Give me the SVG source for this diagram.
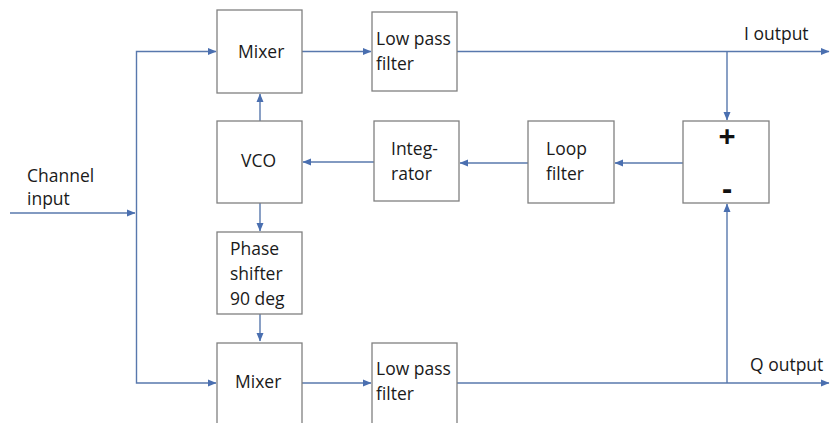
<svg xmlns="http://www.w3.org/2000/svg" width="837" height="423" viewBox="0 0 837 423">
<style>
.box{fill:#fff;stroke:#808080;stroke-width:1.3}
.t{font-family:"Open Sans","Liberation Sans",sans-serif;font-size:17.5px;fill:#1a1a1a}
.big{font-family:"Open Sans","Liberation Sans",sans-serif;font-size:30px;font-weight:bold;fill:#111}
.c{fill:none;stroke:#5878ad;stroke-width:1.4}
</style>
<defs>
<marker id="a" markerWidth="9" markerHeight="8" refX="8" refY="4" orient="auto" markerUnits="userSpaceOnUse">
<path d="M0,0.5 L8.5,4 L0,7.5 Z" fill="#4a6fb0"/>
</marker>
</defs>
<rect width="837" height="423" fill="#fff"/>
<g id="connectors">
<path class="c" d="M10,213 H135" marker-end="url(#a)"/>
<path class="c" d="M136.5,213 V51.5 H216" marker-end="url(#a)"/>
<path class="c" d="M136.5,213 V383 H216" marker-end="url(#a)"/>
<path class="c" d="M302,51.5 H371" marker-end="url(#a)"/>
<path class="c" d="M302,383 H371" marker-end="url(#a)"/>
<path class="c" d="M457,51.5 H829" marker-end="url(#a)"/>
<path class="c" d="M457,383 H829" marker-end="url(#a)"/>
<path class="c" d="M727,51.5 V120" marker-end="url(#a)"/>
<path class="c" d="M727,383 V204" marker-end="url(#a)"/>
<path class="c" d="M683,163 H615" marker-end="url(#a)"/>
<path class="c" d="M528,163 H460" marker-end="url(#a)"/>
<path class="c" d="M374,162 H303" marker-end="url(#a)"/>
<path class="c" d="M260,121 V94" marker-end="url(#a)"/>
<path class="c" d="M260,203 V231" marker-end="url(#a)"/>
<path class="c" d="M260,314 V341" marker-end="url(#a)"/>
</g>
<g id="mixer1"><rect class="box" x="217" y="10" width="85" height="83"/><text class="t" x="238" y="58">Mixer</text></g>
<g id="lpf1"><rect class="box" x="372" y="12" width="85" height="79"/><text class="t" x="376" y="45">Low pass</text><text class="t" x="376" y="70">filter</text></g>
<g id="vco"><rect class="box" x="217" y="121" width="85" height="82"/><text class="t" x="241" y="167">VCO</text></g>
<g id="integrator"><rect class="box" x="374" y="121" width="85" height="80"/><text class="t" x="391" y="155">Integ-</text><text class="t" x="391" y="180">rator</text></g>
<g id="loopfilter"><rect class="box" x="528" y="121" width="86" height="82"/><text class="t" x="546" y="155">Loop</text><text class="t" x="546" y="180">filter</text></g>
<g id="sum"><rect class="box" x="683" y="121" width="86" height="82"/><text class="big" x="727" y="147" text-anchor="middle">+</text><text class="big" x="727" y="199" text-anchor="middle">-</text></g>
<g id="phaseshifter"><rect class="box" x="217" y="232" width="85" height="82"/><text class="t" x="230" y="255">Phase</text><text class="t" x="230" y="280">shifter</text><text class="t" x="230" y="305">90 deg</text></g>
<g id="mixer2"><rect class="box" x="217" y="343" width="85" height="90"/><text class="t" x="235" y="388">Mixer</text></g>
<g id="lpf2"><rect class="box" x="372" y="343" width="85" height="90"/><text class="t" x="376" y="375">Low pass</text><text class="t" x="376" y="400">filter</text></g>
<g id="labels">
<text class="t" x="27" y="182">Channel</text><text class="t" x="27" y="205">input</text>
<text class="t" x="744" y="40">I output</text>
<text class="t" x="750" y="371">Q output</text>
</g>
</svg>
